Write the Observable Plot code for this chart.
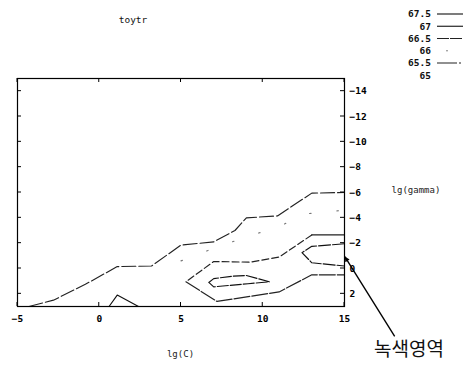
<!DOCTYPE html>
<html><head><meta charset="utf-8">
<script src="https://cdn.jsdelivr.net/npm/d3@7"></script>
<script src="https://cdn.jsdelivr.net/npm/@observablehq/plot@0.6"></script>
<style>body{margin:0;background:#fff}svg{display:block}</style>
</head><body><div id="chart"></div>
<script>
const title = "toytr";
const xLabel = "lg(C)";
const yLabel = "lg(gamma)";
const annotationText = "녹색영역";
const xDomain = [-5, 15];
const yDomain = [-15, 3];
const xTicks = [-5, 0, 5, 10, 15];
const yTicks = [-14, -12, -10, -8, -6, -4, -2, 0, 2];
const levels = [67.5, 67, 66.5, 66, 65.5, 65];

// contour polylines, [lg(C), lg(gamma)]
const contour655 = [[-4.3,3],[-2.8,2.5],[-0.85,1.25],[1.1,-0.15],[3.2,-0.2],[5,-1.85],[7,-2.1],[8.3,-3],[9,-4],[10.9,-4.15],[13,-5.95],[15,-6]];
const contour66 = [[5,-0.6],[7,-1.6],[9.25,-2.6],[11,-3.3],[12.5,-4.3],[15,-4.6]];
const contour665a = [[13,-2.65],[11,-0.9],[9.25,-0.5],[7,-0.55],[5.3,1.05]];
const contour665b = [[15,-2.65],[13,-2.65]];
const contour665c = [[5.3,1.05],[7.2,2.6],[11,1.85],[13,0.5],[15,0.5]];
const contour67a = [[15,-1.95],[13,-1.75],[12.4,-1.25],[13,-0.45],[15,-0.2]];
const contour67b = [[0.6,3],[1.1,2.1],[2.4,3]];
const contour675 = [[6.7,1.1],[7,0.8],[8.2,0.6],[9,0.55],[10.4,1.05],[9.1,1.2],[7,1.45],[6.7,1.1]];
const arrowTip = [15.05, -0.9];
const arrowTail = [18.1, 5.4];

const contours = [
  {level: 65.5, pts: contour655, dash: "14,3"},
  {level: 66, pts: contour66, dash: "1.5,26"},
  {level: 66.5, pts: contour665a, dash: "7,3"},
  {level: 66.5, pts: contour665b, dash: null},
  {level: 66.5, pts: contour665c, dash: "16,2"},
  {level: 67, pts: contour67a, dash: "12,2"},
  {level: 67, pts: contour67b, dash: null},
  {level: 67.5, pts: contour675, dash: "11,2"}
];
const strokeCol = {67.5: "#111", 67: "#111", 66.5: "#222", 66: "#777", 65.5: "#222", 65: "none"};

const FONT = "DejaVu Sans Mono";
const marks = [];
for (const c of contours) {
  marks.push(Plot.line(c.pts, {x: d => d[0], y: d => d[1], stroke: strokeCol[c.level],
    strokeWidth: 1.15, strokeDasharray: c.dash}));
}
marks.push(Plot.frame({stroke: "#000", strokeWidth: 1.2}));
marks.push(Plot.axisX({anchor: "bottom", ticks: xTicks, tickSize: 0, tickPadding: 9, label: null,
  fontSize: 9.5, fontWeight: "bold", fontFamily: FONT}));
marks.push(Plot.axisY({anchor: "right", ticks: yTicks, tickSize: 0, tickPadding: 5, label: null,
  fontSize: 9.5, fontWeight: "bold", fontFamily: FONT}));

const plot = Plot.plot({
  width: 468, height: 373,
  marginLeft: 17, marginRight: 124, marginTop: 78, marginBottom: 67,
  x: {domain: xDomain},
  y: {domain: yDomain, reverse: true},
  style: {background: "#fff", color: "#000", overflow: "visible"},
  marks
});
document.getElementById("chart").appendChild(plot);

const svg = d3.select(plot);
const sx = plot.scale("x"), sy = plot.scale("y");
const X = v => sx.apply(v), Y = v => sy.apply(v);
const x0 = X(xDomain[0]), x1 = X(xDomain[1]), yTop = Y(yDomain[0]), yBot = Y(yDomain[1]);
const g = svg.append("g").attr("stroke", "#000").attr("stroke-width", 1);
for (const t of xTicks) {
  g.append("line").attr("x1", X(t)).attr("x2", X(t)).attr("y1", yTop).attr("y2", yTop + 4);
  g.append("line").attr("x1", X(t)).attr("x2", X(t)).attr("y1", yBot).attr("y2", yBot - 4);
}
for (const t of yTicks) {
  g.append("line").attr("y1", Y(t)).attr("y2", Y(t)).attr("x1", x0).attr("x2", x0 + 4);
  g.append("line").attr("y1", Y(t)).attr("y2", Y(t)).attr("x1", x1).attr("x2", x1 - 4);
}

// title and axis labels
svg.append("text").attr("x", 133).attr("y", 23).attr("text-anchor", "middle")
  .attr("font-family", FONT).attr("font-size", 9.5).attr("fill", "#111").text(title);
svg.append("text").attr("x", (x0 + x1) / 2).attr("y", 357).attr("text-anchor", "middle")
  .attr("font-family", FONT).attr("font-size", 9).attr("fill", "#222").text(xLabel);
svg.append("text").attr("x", 416).attr("y", 193).attr("text-anchor", "middle")
  .attr("font-family", FONT).attr("font-size", 9).attr("fill", "#222").text(yLabel);

// legend
levels.forEach((lv, i) => {
  const y = 14 + i * 12.25;
  svg.append("text").attr("x", 431).attr("y", y).attr("dy", "0.35em").attr("text-anchor", "end")
    .attr("font-family", FONT).attr("font-size", 9.5).attr("font-weight", "bold").attr("fill", "#111").text(String(lv));
  if (strokeCol[lv] !== "none") {
    if (lv === 66) {
      svg.append("circle").attr("cx", 447).attr("cy", y).attr("r", 0.7).attr("fill", "#555");
    } else {
      svg.append("line").attr("x1", 437).attr("x2", 463).attr("y1", y).attr("y2", y)
        .attr("stroke", strokeCol[lv]).attr("stroke-width", 1.1)
        .attr("stroke-dasharray", lv === 65.5 ? "20,2,2,2" : (lv === 66.5 ? "12,1,12" : null));
    }
  }
});

// annotation arrow
const defs = svg.append("defs");
defs.append("marker").attr("id", "ah").attr("viewBox", "0 0 10 10").attr("refX", 10).attr("refY", 5)
  .attr("markerWidth", 7).attr("markerHeight", 5).attr("markerUnits", "userSpaceOnUse").attr("orient", "auto")
  .append("path").attr("d", "M0,0L10,5L0,10z").attr("fill", "#000");
svg.append("line").attr("x1", X(arrowTail[0])).attr("y1", Y(arrowTail[1]))
  .attr("x2", X(arrowTip[0])).attr("y2", Y(arrowTip[1]))
  .attr("stroke", "#000").attr("stroke-width", 1.4).attr("marker-end", "url(#ah)");
svg.append("text").attr("x", 409).attr("y", 356).attr("text-anchor", "middle")
  .attr("font-family", "Noto Sans CJK KR").attr("font-size", 19).attr("fill", "#111").text(annotationText);
</script></body></html>
